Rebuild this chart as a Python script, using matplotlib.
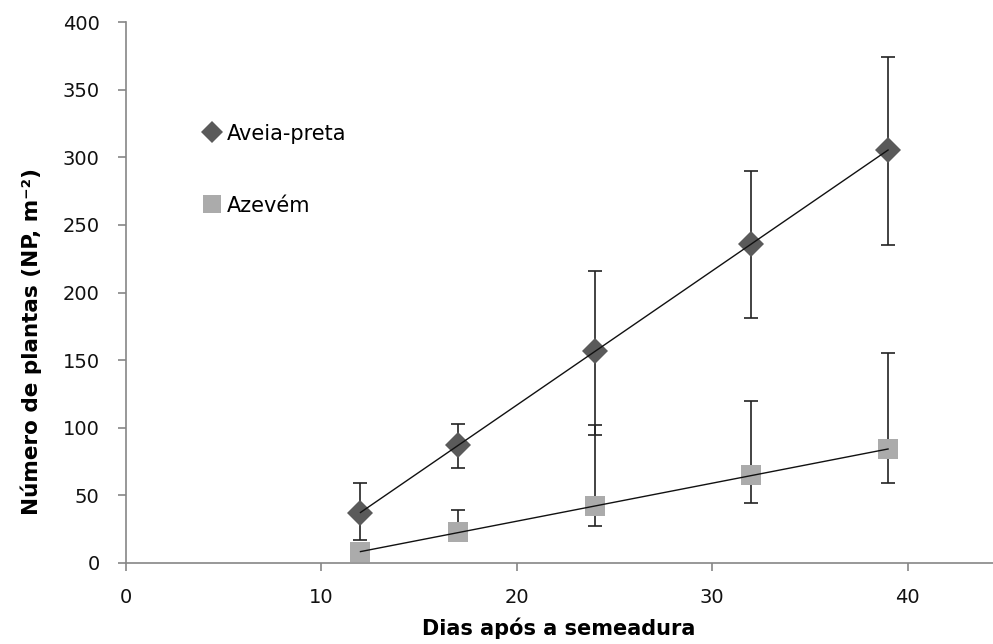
import numpy as np
import matplotlib
matplotlib.use('Agg')
import matplotlib.pyplot as plt

# Dados
dias = [12, 17, 24, 32, 39]
aveia = [37, 87, 157, 236, 305]
aveia_sup = [59, 103, 216, 290, 374]
aveia_inf = [17, 70, 95, 181, 235]
azevem = [8, 23, 42, 65, 84]
azevem_sup = [14, 39, 102, 120, 155]
azevem_inf = [4, 17, 27, 44, 59]

x_ticks = [0, 10, 20, 30, 40]
y_ticks = [0, 50, 100, 150, 200, 250, 300, 350, 400]

cor_aveia = '#5a5a5a'
cor_azevem = '#ababab'
cinza_eixo = '#868686'

plt.rcParams['font.family'] = ['DejaVu Sans']

fig = plt.figure(figsize=(9.93, 6.44), dpi=100)
ax = fig.add_axes([126 / 993, 81 / 644, 867 / 993, 541 / 644])

x = np.array(dias)
series = [
    (aveia, aveia_sup, aveia_inf, 'D', 13, cor_aveia, 'Aveia-preta'),
    (azevem, azevem_sup, azevem_inf, 's', 15, cor_azevem, 'Azevém'),
]

handles = []
for y, sup, inf, mk, ms, cor, nome in series:
    y = np.array(y)
    yerr = [y - np.array(inf), np.array(sup) - y]
    ax.errorbar(x, y, yerr=yerr, fmt='none', ecolor='#222222', elinewidth=1.2,
                capsize=5, capthick=1.2, zorder=2)
    h, = ax.plot(x, y, linestyle='none', marker=mk, markersize=ms, color=cor,
                 markeredgewidth=0, zorder=3, label=nome)
    handles.append(h)
    # Linha de tendência linear
    coef = np.polyfit(x, y, 1)
    xs = np.array([x.min(), x.max()])
    ax.plot(xs, np.polyval(coef, xs), color='#111111', lw=1.0, zorder=4)

ax.set_xlim(0, 44.37)
ax.set_ylim(0, 400)
ax.set_xticks(x_ticks)
ax.set_yticks(y_ticks)

for s in ['top', 'right']:
    ax.spines[s].set_visible(False)
for s in ['left', 'bottom']:
    ax.spines[s].set_color(cinza_eixo)
    ax.spines[s].set_linewidth(1.2)
ax.tick_params(axis='both', direction='out', length=6, width=1.2,
               color=cinza_eixo, labelsize=14, labelcolor='#111111')
ax.tick_params(axis='y', pad=13)
ax.tick_params(axis='x', pad=12)

ax.set_xlabel('Dias após a semeadura', fontsize=15, fontweight='bold')
ax.xaxis.set_label_coords(0.4995, -0.1)
ax.set_ylabel('Número de plantas (NP, m⁻²)', fontsize=15.5, fontweight='bold')
ax.yaxis.set_label_coords(-0.097, 0.41)

leg = ax.legend(handles=handles, loc='upper left', bbox_to_anchor=(0.09, 0.812),
                frameon=False, fontsize=15, handlelength=0.8, handletextpad=0.3,
                labelspacing=2.5, borderpad=0, borderaxespad=0)
leg.legend_handles[0].set_markersize(11)
leg.legend_handles[1].set_markersize(13)

fig.savefig('out.png', dpi=100)
